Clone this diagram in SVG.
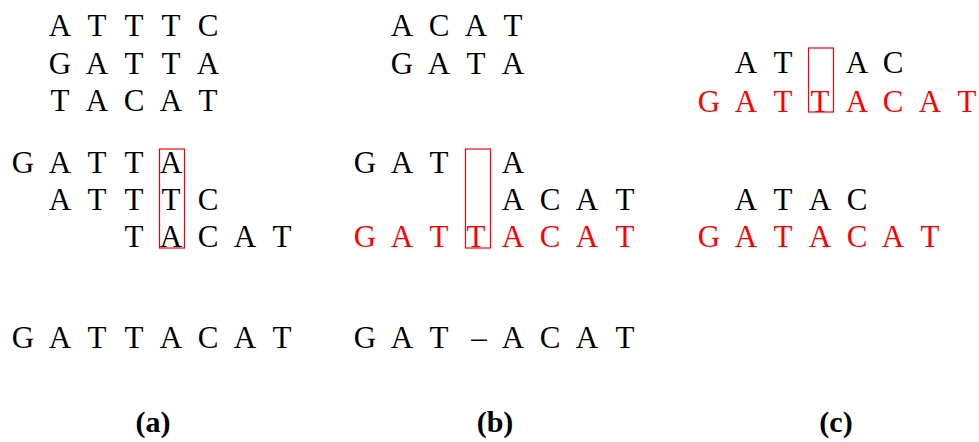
<svg xmlns="http://www.w3.org/2000/svg" width="979" height="442" viewBox="0 0 979 442">
<style>
text{font-family:"Liberation Serif","Times New Roman",serif;font-size:31px;text-anchor:middle;fill:#000}
.r{fill:#ff0000}
.lab{font-weight:bold;font-size:30px}
.box{fill:none;stroke:#ff0000;stroke-width:1.2}
</style>
<rect width="979" height="442" fill="#fff"/>
<g id="panel-a">
<text x="60 97 134 171 208" y="36">ATTTC</text>
<text x="60 97 134 171 208" y="74">GATTA</text>
<text x="60 97 134 171 208" y="111">TACAT</text>
<text x="23 60 97 134 171" y="173">GATTA</text>
<text x="60 97 134 171 208" y="210">ATTTC</text>
<text x="134 171 208 245 282" y="247">TACAT</text>
<rect class="box" x="159.5" y="149" width="25" height="99"/>
<text x="23 60 97 134 171 208 245 282" y="348">GATTACAT</text>
<text class="lab" x="153" y="432">(a)</text>
</g>
<g id="panel-b">
<text x="402 439 476 513" y="36">ACAT</text>
<text x="402 439 476 513" y="74">GATA</text>
<text x="365 402 439 513" y="173">GATA</text>
<text x="513 550 587 625" y="210">ACAT</text>
<text class="r" x="365 402 439 476 513 550 587 625" y="247">GATTACAT</text>
<rect class="box" x="465.5" y="149" width="25" height="99"/>
<text x="365 402 439 479 513 550 587 625" y="348">GAT–ACAT</text>
<text class="lab" x="495" y="432">(b)</text>
</g>
<g id="panel-c">
<text x="746 783 857 893" y="73">ATAC</text>
<text class="r" x="709 746 783 820 857 893 930 967" y="112">GATTACAT</text>
<rect class="box" x="808.5" y="48" width="25" height="64"/>
<text x="746 783 820 857" y="210">ATAC</text>
<text class="r" x="709 746 783 820 857 893 930" y="247">GATACAT</text>
<text class="lab" x="836" y="432">(c)</text>
</g>
<g id="connectors"></g>
</svg>
